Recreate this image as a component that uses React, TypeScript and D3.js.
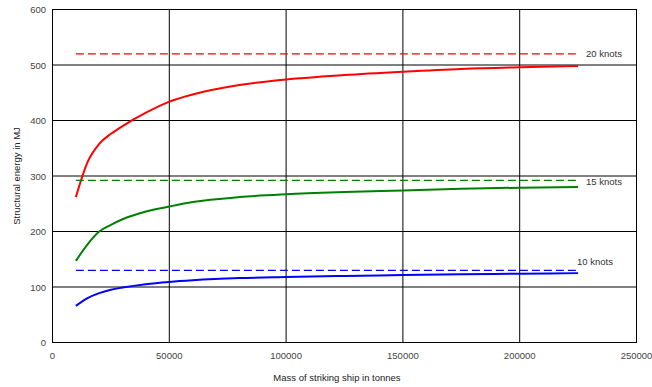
import React from 'react';
import * as d3 from 'd3';

// masses of striking ship (tonnes)
const masses = [10000, 15000, 20000, 25000, 30000, 40000, 50000, 60000, 80000, 100000, 125000, 150000, 175000, 200000, 225000];

// structural energy (MJ) per speed
const energy20 = [262, 325, 358, 376, 390, 414, 434, 447, 464, 474, 482, 488, 493, 496, 498];
const energy15 = [147, 177, 200, 212, 222, 236, 245, 253, 262, 267, 271, 274, 277, 279, 280];
const energy10 = [66, 80, 89, 95, 99, 105, 109, 112, 116, 118, 120, 121.5, 123, 124, 125];

// dashed reference levels
const limit20 = 520;
const limit15 = 292;
const limit10 = 130;

const xTicks = [0, 50000, 100000, 150000, 200000, 250000];
const yTicks = [0, 100, 200, 300, 400, 500, 600];

const series = [
  {name: '20 knots', values: energy20, limit: limit20, color: '#ff0000'},
  {name: '15 knots', values: energy15, limit: limit15, color: '#008000'},
  {name: '10 knots', values: energy10, limit: limit10, color: '#0000ff'}
];

const W = 652, H = 387;
const left = 52.5, right = 636.5, top = 9.5, bottom = 342.5;
const font = '"Liberation Sans", Arial, sans-serif';

const App = () => {
  const x = d3.scaleLinear().domain([0, 250000]).range([left, right]);
  const y = d3.scaleLinear().domain([0, 600]).range([bottom, top]);

  const curve = d3.line<number>()
    .x((_, i) => x(masses[i]))
    .y(v => y(v))
    .curve(d3.curveMonotoneX);

  const x0 = masses[0], x1 = masses[masses.length - 1];

  return (
    <svg width={W} height={H} style={{position: 'absolute', left: 0, top: 0}}>
      <rect width={W} height={H} fill='#fff'/>
      {/* grid */}
      {yTicks.slice(1, -1).map(t => (
        <line key={'gy' + t} x1={left} x2={right} y1={y(t)} y2={y(t)} stroke='#000' strokeWidth={1}/>
      ))}
      {xTicks.slice(1, -1).map(t => (
        <line key={'gx' + t} x1={x(t)} x2={x(t)} y1={top} y2={bottom} stroke='#000' strokeWidth={1}/>
      ))}
      <rect x={left} y={top} width={right - left} height={bottom - top} fill='none' stroke='#000' strokeWidth={1}/>

      {/* series */}
      {series.map(s => (
        <g key={s.name}>
          <line x1={x(x0)} x2={x(x1)} y1={y(s.limit)} y2={y(s.limit)}
            stroke={s.color} strokeWidth={1.2} strokeDasharray='8,4'/>
          <path d={curve(s.values) || ''} fill='none' stroke={s.color} strokeWidth={2}/>
        </g>
      ))}

      {/* labels at the dashed lines */}
      <text x={586} y={y(limit20) + 3.5} fontFamily={font} fontSize={9.5} fill='#333'>20 knots</text>
      <text x={586} y={y(limit15) + 5} fontFamily={font} fontSize={9.5} fill='#333'>15 knots</text>
      <text x={577} y={y(limit10) - 5} fontFamily={font} fontSize={9.5} fill='#333'>10 knots</text>

      {/* y axis tick labels */}
      {yTicks.map(t => (
        <text key={'ty' + t} x={46} y={y(t) + 3.5} textAnchor='end' fontFamily={font} fontSize={9.5} fill='#444'>{t}</text>
      ))}
      {/* x axis tick labels */}
      {xTicks.map(t => (
        <text key={'tx' + t} x={x(t)} y={359} textAnchor='middle' fontFamily={font} fontSize={9.5} fill='#444'>{t}</text>
      ))}

      <text x={337} y={381} textAnchor='middle' fontFamily={font} fontSize={9.5} fill='#222'>Mass of striking ship in tonnes</text>
      <text transform={`translate(20,${(top + bottom) / 2}) rotate(-90)`} textAnchor='middle'
        fontFamily={font} fontSize={9.5} fill='#222'>Structural energy in MJ</text>
    </svg>
  );
};

export default App;
